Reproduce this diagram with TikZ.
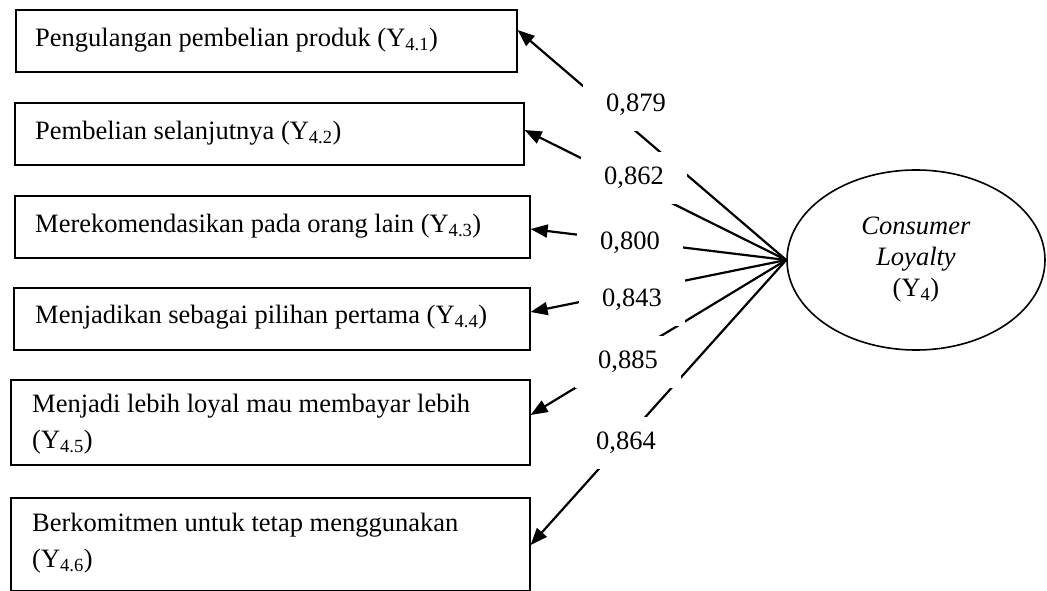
\documentclass[tikz,border=0pt]{standalone}
\usepackage{fontspec}
\setmainfont{Liberation Serif}
\usetikzlibrary{calc,arrows.meta,shapes.geometric}
\begin{document}
\begin{tikzpicture}[x=1pt,y=-1pt,
  font=\fontsize{26.5}{31}\selectfont,
  box/.style={draw, line width=1.6pt, inner sep=0pt, anchor=north west},
  txt/.style={inner sep=0pt, anchor=west, align=left},
  twoline/.style={font=\fontsize{26.5}{36}\selectfont},
  lab/.style={fill=white, inner sep=0pt, minimum width=106pt, minimum height=52pt},
  link/.style={line width=2.2pt, -{Triangle[length=17pt,width=13pt]}}]
\useasboundingbox (0,0) rectangle (1047,591);

% indicator boxes
\node[box, minimum width=501pt, minimum height=62pt] (b1) at (15,9) {};
\node[box, minimum width=509pt, minimum height=62pt] (b2) at (14,102) {};
\node[box, minimum width=515pt, minimum height=62pt] (b3) at (14,195) {};
\node[box, minimum width=516pt, minimum height=62pt] (b4) at (13,287) {};
\node[box, minimum width=519pt, minimum height=85pt] (b5) at (10,379) {};
\node[box, minimum width=519pt, minimum height=93pt] (b6) at (10,497) {};

\node[txt] (t1) at (35,40) {Pengulangan pembelian produk (Y\textsubscript{4.1})};
\node[txt] (t2) at (35,133) {Pembelian selanjutnya (Y\textsubscript{4.2})};
\node[txt] (t3) at (35,226) {Merekomendasikan pada orang lain (Y\textsubscript{4.3})};
\node[txt] (t4) at (35,317) {Menjadikan sebagai pilihan pertama (Y\textsubscript{4.4})};
\node[txt, twoline] (t5) at (32,424) {Menjadi lebih loyal mau membayar lebih\\(Y\textsubscript{4.5})};
\node[txt, twoline] (t6) at (32,543) {Berkomitmen untuk tetap menggunakan\\(Y\textsubscript{4.6})};

% latent variable
\node[draw, ellipse, line width=1.6pt, minimum width=258pt, minimum height=180pt, inner sep=0pt, align=center]
  (lv) at (916,260) {\textit{Consumer}\\\textit{Loyalty}\\(Y\textsubscript{4})};

% loadings
\draw[link] (lv.west) -- ($(b1.north east)+(0,21)$);
\draw[link] (lv.west) -- ($(b2.north east)+(0,28)$);
\draw[link] (lv.west) -- ($(b3.north east)+(0,34)$);
\draw[link] (lv.west) -- ($(b4.north east)+(0,25)$);
\draw[link] (lv.west) -- ($(b5.north east)+(0,36)$);
\draw[link] (lv.west) -- ($(b6.north east)+(0,48)$);

\node[lab] (l1) at (636,105) {0,879};
\node[lab] (l2) at (634,178) {0,862};
\node[lab] (l3) at (630,243) {0,800};
\node[lab] (l4) at (632,300) {0,843};
\node[lab] (l5) at (628,362) {0,885};
\node[lab] (l6) at (626,443) {0,864};
\end{tikzpicture}
\end{document}
